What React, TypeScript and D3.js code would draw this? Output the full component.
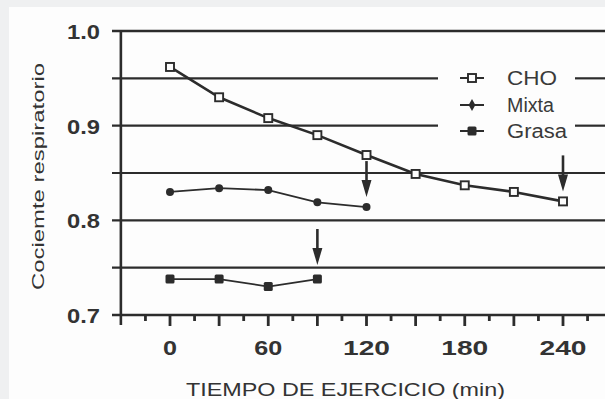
import React from 'react';
import * as d3 from 'd3';

// Respiratory quotient during exercise under three diets
const minutes = [0, 30, 60, 90, 120, 150, 180, 210, 240];
const choValues = [0.962, 0.93, 0.908, 0.89, 0.869, 0.849, 0.837, 0.83, 0.82];
const mixtaMinutes = [0, 30, 60, 90, 120];
const mixtaValues = [0.83, 0.834, 0.832, 0.819, 0.814];
const grasaMinutes = [0, 30, 60, 90];
const grasaValues = [0.738, 0.738, 0.73, 0.738];

const yTickValues = [1.0, 0.9, 0.8, 0.7];
const gridValues = [1.0, 0.95, 0.9, 0.85, 0.8, 0.75];
const xTickLabels = ['0', '60', '120', '180', '240'];
const xTickMinutes = [0, 60, 120, 180, 240];
const legendNames = ['CHO', 'Mixta', 'Grasa'];
// exhaustion point of each diet (series index, minute)
const exhaustion: [number, number][] = [[1, 120], [0, 240], [2, 90]];

const W = 605;
const H = 399;
const INK = '#2c2c2c';
const FONT = '"Liberation Sans", Arial, Helvetica, sans-serif';

export default function App() {
  const x = d3.scaleLinear().domain([0, 240]).range([170, 563]);
  const y = d3.scaleLinear().domain([0.7, 1.0]).range([315, 31]);

  const series = [
    { name: 'CHO', mins: minutes, vals: choValues, width: 2.6 },
    { name: 'Mixta', mins: mixtaMinutes, vals: mixtaValues, width: 1.8 },
    { name: 'Grasa', mins: grasaMinutes, vals: grasaValues, width: 1.8 },
  ];

  const line = d3
    .line<[number, number]>()
    .x((d) => x(d[0]))
    .y((d) => y(d[1]));

  const axisLeft = x(-30);
  const axisBottom = y(0.7);
  const gridStart = 112;
  const legendGapL = 438;
  const legendGapR = 575;

  const marker = (idx: number, cx: number, cy: number, key: string) => {
    if (idx === 0)
      return (
        <rect key={key} x={cx - 4} y={cy - 4} width={8} height={8} fill="#fdfdfd" stroke={INK} strokeWidth={1.9} />
      );
    if (idx === 1) return <circle key={key} cx={cx} cy={cy} r={4} fill={INK} />;
    return <rect key={key} x={cx - 4.5} y={cy - 4.5} width={9} height={9} rx={1.5} fill={INK} />;
  };

  // minor ticks every 15 min, larger ones every 30
  const tickMinutes = d3.range(-15, 256, 15);

  const legendY = [78, 105, 131];
  const legendBaseline = [85, 112, 138];
  const legendWidths = [50, 47, 60];
  const xLabelWidths = [14, 28, 47];

  return (
    <svg
      width={W}
      height={H}
      viewBox={`0 0 ${W} ${H}`}
      style={{ position: 'absolute', left: 0, top: 0, display: 'block' }}
    >
      <rect x={0} y={0} width={W} height={H} fill="#eff0f1" />
      <rect x={9} y={7} width={W - 9} height={H - 7} fill="#fdfdfd" />

      {/* horizontal grid lines */}
      {gridValues.map((v) => {
        const gy = y(v);
        const broken = v === 0.95 || v === 0.9;
        return broken ? (
          <g key={v}>
            <line x1={gridStart} x2={legendGapL} y1={gy} y2={gy} stroke={INK} strokeWidth={2.2} />
            <line x1={legendGapR} x2={W} y1={gy} y2={gy} stroke={INK} strokeWidth={2.2} />
          </g>
        ) : (
          <line key={v} x1={gridStart} x2={W} y1={gy} y2={gy} stroke={INK} strokeWidth={v === 1.0 ? 2.6 : 2.2} />
        );
      })}

      {/* axes */}
      <line x1={gridStart} x2={W} y1={axisBottom} y2={axisBottom} stroke={INK} strokeWidth={2.6} />
      <line x1={axisLeft} x2={axisLeft} y1={y(1.0) - 1} y2={axisBottom + 10} stroke={INK} strokeWidth={2.6} />
      {tickMinutes.map((m) => (
        <line
          key={m}
          x1={x(m)}
          x2={x(m)}
          y1={axisBottom}
          y2={axisBottom + (m % 30 === 0 ? 11 : 6)}
          stroke={INK}
          strokeWidth={2.8}
        />
      ))}

      {/* y tick labels */}
      {yTickValues.map((v) => (
        <text
          key={v}
          x={67}
          y={y(v) + 8}
          fontFamily={FONT}
          fontWeight="bold"
          fontSize={21}
          fill="#333"
          textLength={33}
          lengthAdjust="spacingAndGlyphs"
        >
          {v.toFixed(1)}
        </text>
      ))}

      {/* x tick labels */}
      {xTickLabels.map((t, i) => {
        const w = xLabelWidths[t.length - 1];
        return (
          <text
            key={t}
            x={x(xTickMinutes[i]) - w / 2}
            y={355}
            fontFamily={FONT}
            fontWeight="bold"
            fontSize={21}
            fill="#333"
            textLength={w}
            lengthAdjust="spacingAndGlyphs"
          >
            {t}
          </text>
        );
      })}

      {/* axis titles */}
      <text
        x={186}
        y={396}
        fontFamily={FONT}
        fontSize={19}
        fill="#333"
        textLength={319}
        lengthAdjust="spacingAndGlyphs"
      >
        TIEMPO DE EJERCICIO (min)
      </text>
      <text
        transform="translate(44,290) rotate(-90)"
        fontFamily={FONT}
        fontSize={16.5}
        fill="#333"
        textLength={227}
        lengthAdjust="spacingAndGlyphs"
      >
        Cociemte respiratorio
      </text>

      {/* series */}
      {series.map((s, i) => {
        const pts = s.mins.map((m, j) => [m, s.vals[j]] as [number, number]);
        return (
          <g key={s.name}>
            <path d={line(pts) ?? ''} fill="none" stroke={INK} strokeWidth={s.width} />
            {pts.map((p, j) => marker(i, x(p[0]), y(p[1]), `${s.name}-${j}`))}
          </g>
        );
      })}

      {/* exhaustion arrows */}
      {exhaustion.map(([si, m]) => {
        const s = series[si];
        const v = s.vals[s.mins.indexOf(m)];
        const ax = x(m);
        const tip = y(v) - (si === 2 ? 14 : 10);
        const top = tip - 36;
        return (
          <g key={`${si}-${m}`}>
            <line x1={ax} x2={ax} y1={top} y2={tip - 8} stroke={INK} strokeWidth={2.6} />
            <path d={`M${ax - 5},${tip - 17} L${ax + 5},${tip - 17} L${ax},${tip} Z`} fill={INK} />
          </g>
        );
      })}

      {/* legend */}
      {legendNames.map((name, i) => (
        <g key={name}>
          <line x1={460} x2={484} y1={legendY[i]} y2={legendY[i]} stroke={INK} strokeWidth={2} />
          {i === 1 ? (
            <path d={d3.symbol(d3.symbolDiamond, 40)() ?? ''} transform={`translate(472,${legendY[i]})`} fill={INK} />
          ) : (
            marker(i, 472, legendY[i], `lg-${name}`)
          )}
          <text
            x={507}
            y={legendBaseline[i]}
            fontFamily={FONT}
            fontSize={20}
            fill="#3a3a3a"
            textLength={legendWidths[i]}
            lengthAdjust="spacingAndGlyphs"
          >
            {name}
          </text>
        </g>
      ))}
    </svg>
  );
}
